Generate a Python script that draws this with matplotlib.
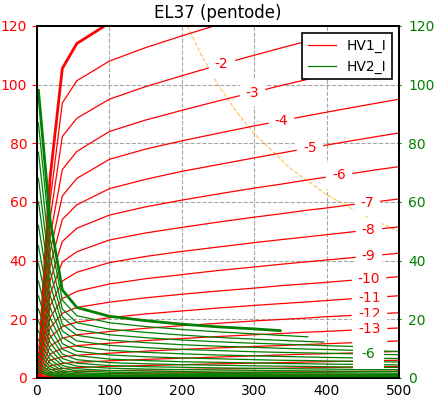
import numpy as np
import matplotlib
matplotlib.use('Agg')
import matplotlib.pyplot as plt

# plate voltage sweep points (V)
va = [2, 18, 35, 55, 100, 150, 200, 250, 300, 336, 374, 396, 436, 470, 500]

# grid voltages, 0 V is the thick curve
vg = [0, -1, -2, -3, -4, -5, -6, -7, -8, -9, -10, -11, -12, -13, -14, -15, -16, -17, -18, -19, -20]

# plate current HV1_I (mA), sweeps stop early for the top curves
ia = [
    [2, 68, 105.5, 114, 121, 125.5, 129.3, 133, 136.5, 139],
    [2, 60, 93.7, 101.3, 108, 112.6, 116.6, 120.4, 124.1, 126.7, 129.4],
    [2, 54, 82.3, 88.5, 95, 99.3, 103, 106.6, 110, 112.4, 114.9, 116.4],
    [2, 48, 71, 77.2, 84, 87.9, 91.2, 94.4, 97.4, 99.6, 101.8, 103.1, 105.4],
    [2, 43, 62, 68, 74.5, 78, 80.8, 83.4, 85.9, 87.6, 89.4, 90.4, 92.2, 93.7, 95],
    [1.8, 38, 54, 59, 64.5, 67.7, 70.4, 72.7, 75, 76.6, 78.3, 79.2, 80.9, 82.3, 83.5],
    [1.6, 33, 46.5, 51, 55.5, 58.3, 60.6, 62.7, 64.7, 66, 67.5, 68.3, 69.7, 71, 72],
    [1.5, 28.5, 39.5, 43, 47, 49.4, 51.3, 53.1, 54.8, 55.9, 57.2, 57.8, 59.1, 60.1, 61],
    [1.3, 24.5, 33, 36, 39.3, 41.4, 43.1, 44.6, 46.1, 47.1, 48.1, 48.7, 49.8, 50.7, 51.5],
    [1.1, 20.5, 27, 29.5, 32, 33.8, 35.2, 36.6, 37.8, 38.7, 39.6, 40.1, 41, 41.8, 42.5],
    [1, 17, 22, 24, 25.8, 27.3, 28.5, 29.6, 30.6, 31.4, 32.1, 32.5, 33.3, 33.9, 34.5],
    [0.8, 13.8, 17.5, 19, 20.5, 21.8, 22.8, 23.8, 24.7, 25.3, 25.9, 26.3, 27, 27.5, 28],
    [0.7, 10.8, 13.5, 14.7, 15.8, 16.9, 17.8, 18.6, 19.4, 19.9, 20.4, 20.8, 21.3, 21.8, 22.2],
    [0.6, 8.1, 10.1, 11, 11.8, 12.7, 13.4, 14.1, 14.7, 15.1, 15.6, 15.8, 16.3, 16.7, 17],
    [0.5, 6, 7.2, 7.7, 8.4, 9.1, 9.7, 10.2, 10.7, 11, 11.4, 11.6, 12, 12.3, 12.6],
    [0.4, 4.1, 4.9, 5.3, 5.8, 6.3, 6.7, 7.1, 7.5, 7.8, 8.1, 8.2, 8.5, 8.8, 9],
    [0.3, 2.8, 3.2, 3.5, 3.9, 4.2, 4.5, 4.8, 5, 5.2, 5.4, 5.5, 5.7, 5.9, 6],
    [0.2, 1.8, 2.05, 2.25, 2.45, 2.65, 2.85, 3.05, 3.2, 3.3, 3.45, 3.5, 3.65, 3.8, 3.9],
    [0.1, 1.05, 1.2, 1.3, 1.45, 1.6, 1.7, 1.8, 1.9, 2, 2.05, 2.1, 2.2, 2.25, 2.3],
    [0.1, 0.55, 0.65, 0.72, 0.8, 0.88, 0.94, 1, 1.07, 1.1, 1.15, 1.18, 1.23, 1.27, 1.3],
    [0.05, 0.28, 0.34, 0.38, 0.42, 0.46, 0.5, 0.54, 0.57, 0.59, 0.62, 0.63, 0.66, 0.68, 0.7],
]

# screen current HV2_I (mA)
ig2 = [
    [98, 54, 30, 24, 21, 19.5, 18.3, 17.4, 16.7, 16.1],
    [87, 47.5, 26.5, 21.2, 18.8, 17.5, 16.5, 15.7, 15, 14.5, 14],
    [77, 41.5, 23.5, 18.8, 16.6, 15.5, 14.6, 13.8, 13.2, 12.8, 12.4, 12.2],
    [68, 36.5, 20.8, 16.5, 14.7, 13.7, 12.9, 12.3, 11.8, 11.5, 11.2, 11, 10.7],
    [60, 32, 18.3, 14.5, 12.9, 12, 11.3, 10.8, 10.4, 10.1, 9.8, 9.7, 9.4, 9.2, 9.0],
    [52, 28, 16, 12.6, 11.1, 10.3, 9.7, 9.3, 8.9, 8.7, 8.5, 8.4, 8.2, 8.0, 7.9],
    [45, 24, 13.8, 10.8, 9.4, 8.7, 8.2, 7.8, 7.5, 7.3, 7.1, 7.0, 6.8, 6.7, 6.6],
    [39, 20.5, 11.7, 9.1, 7.8, 7.2, 6.8, 6.5, 6.2, 6.0, 5.9, 5.8, 5.6, 5.5, 5.4],
    [33, 17.3, 9.8, 7.6, 6.4, 5.9, 5.5, 5.3, 5.1, 4.9, 4.8, 4.7, 4.6, 4.5, 4.4],
    [28, 14.5, 8.1, 6.2, 5.2, 4.8, 4.5, 4.3, 4.1, 4.0, 3.9, 3.8, 3.7, 3.6, 3.55],
    [23.5, 12, 6.6, 5.0, 4.2, 3.8, 3.6, 3.4, 3.25, 3.15, 3.05, 3.0, 2.9, 2.85, 2.8],
    [19.5, 9.8, 5.3, 4.0, 3.3, 3.0, 2.8, 2.65, 2.55, 2.45, 2.4, 2.35, 2.25, 2.2, 2.15],
    [16, 7.9, 4.2, 3.1, 2.5, 2.3, 2.15, 2.0, 1.9, 1.85, 1.8, 1.75, 1.7, 1.65, 1.6],
    [13, 6.3, 3.3, 2.4, 1.9, 1.7, 1.6, 1.5, 1.42, 1.38, 1.34, 1.3, 1.25, 1.22, 1.2],
    [10.5, 5, 2.5, 1.8, 1.4, 1.25, 1.15, 1.08, 1.02, 0.98, 0.95, 0.93, 0.9, 0.88, 0.86],
    [8.3, 3.9, 1.9, 1.3, 1.0, 0.9, 0.83, 0.78, 0.74, 0.71, 0.69, 0.67, 0.65, 0.63, 0.62],
    [6.5, 3, 1.4, 0.95, 0.7, 0.63, 0.58, 0.55, 0.52, 0.5, 0.48, 0.47, 0.45, 0.44, 0.43],
    [5, 2.2, 1.0, 0.68, 0.5, 0.44, 0.4, 0.38, 0.36, 0.35, 0.34, 0.33, 0.32, 0.31, 0.3],
    [3.8, 1.6, 0.7, 0.47, 0.34, 0.3, 0.27, 0.26, 0.25, 0.24, 0.23, 0.22, 0.22, 0.21, 0.2],
    [2.8, 1.1, 0.48, 0.32, 0.23, 0.2, 0.18, 0.17, 0.16, 0.16, 0.15, 0.15, 0.14, 0.14, 0.14],
    [2, 0.75, 0.32, 0.21, 0.15, 0.13, 0.12, 0.11, 0.1, 0.1, 0.1, 0.1, 0.09, 0.09, 0.09],
]

# 25 W anode dissipation limit
pmax_va = [208, 225, 250, 275, 300, 350, 400, 450, 500]
pmax_ia = [120, 111, 100, 91, 83.3, 71.4, 62.5, 55.6, 50]

# where the inline labels sit (plate voltage)
red_lbl_vg = [-2, -3, -4, -5, -6, -7, -8, -9, -10, -11, -12, -13]
red_lbl_va = [255, 297, 337, 377, 417, 456, 458, 458, 458, 459, 459, 459]
green_lbl_vg = -6
green_lbl_va = 458

fig = plt.figure(figsize=(4.35, 3.99), dpi=100)
ax = fig.add_axes([0.085, 0.053, 0.832, 0.882])
ax2 = ax.twinx()

ax.plot(pmax_va, pmax_ia, color='orange', ls='--', lw=0.8, alpha=0.7)

for i, g in enumerate(vg):
    n = len(ia[i])
    lw = 2 if g == 0 else 0.9
    ax.plot(va[:n], ia[i], color='red', lw=lw, label='HV1_I' if i == 1 else None)

for g, x in zip(red_lbl_vg, red_lbl_va):
    i = vg.index(g)
    y = np.interp(x, va[:len(ia[i])], ia[i])
    ax.text(x, y, str(g), color='red', fontsize=10, ha='center', va='center',
            backgroundcolor='white')

for i, g in enumerate(vg):
    n = len(ig2[i])
    lw = 2 if g == 0 else 0.9
    ax2.plot(va[:n], ig2[i], color='green', lw=lw, label='HV2_I' if i == 1 else None)

i = vg.index(green_lbl_vg)
y = np.interp(green_lbl_va, va, ig2[i])
ax2.text(green_lbl_va, y + 1.5, str(green_lbl_vg), color='green', fontsize=10, ha='center',
         va='center', bbox=dict(facecolor='white', edgecolor='none', boxstyle='square,pad=0.6'))

ax.set_xlim(0, 500)
ax.set_ylim(0, 120)
ax2.set_ylim(0, 120)
ax.set_xticks([0, 100, 200, 300, 400, 500])
ax.set_yticks([0, 20, 40, 60, 80, 100, 120])
ax2.set_yticks([0, 20, 40, 60, 80, 100, 120])
ax.tick_params(axis='y', colors='red', labelsize=10)
ax.tick_params(axis='x', labelsize=10, direction='in', pad=4.5)
ax2.tick_params(axis='y', colors='green', labelsize=10, direction='inout', pad=5)
ax.grid(True, ls='--', color='gray', alpha=0.7)
for a in (ax, ax2):
    for s in a.spines.values():
        s.set_linewidth(1.3)
ax.set_title('EL37 (pentode)', fontsize=12)

h1, l1 = ax.get_legend_handles_labels()
h2, l2 = ax2.get_legend_handles_labels()
leg = ax2.legend(h1 + h2, l1 + l2, loc='upper right', fontsize=10, fancybox=False,
                 framealpha=1, edgecolor='black')
leg.get_frame().set_linewidth(1.2)

fig.savefig('out.png', dpi=100)
